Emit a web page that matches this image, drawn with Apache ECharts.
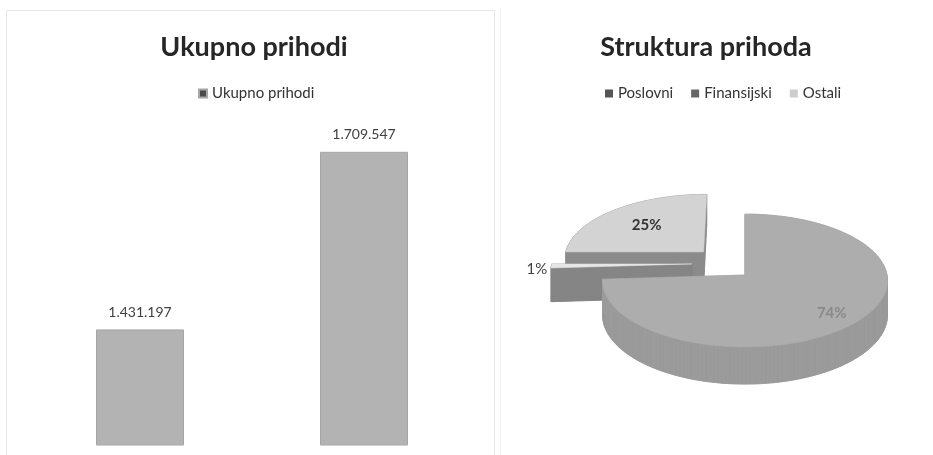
<!DOCTYPE html>
<html>
<head>
<meta charset="utf-8">
<script src="https://cdn.jsdelivr.net/npm/echarts@6/dist/echarts.min.js"></script>
<style>
html,body{margin:0;padding:0;background:#fff;}
#chart{width:933px;height:455px;}
</style>
</head>
<body>
<div id="chart"></div>
<script>
// ---- data ----
const barCategories = ['Prethodni period', 'Tekući period'];
const barValues = [1431197, 1709547];
const barSeriesName = 'Ukupno prihodi';
const barTitle = 'Ukupno prihodi';

const pieTitle = 'Struktura prihoda';
const pieNames = ['Poslovni', 'Finansijski', 'Ostali'];
const pieValues = [74, 1, 25];

// ---- styles / layout ----
const FONT = 'Lato, "Open Sans", sans-serif';
const pieTop = ['#adadad', '#e6e6e6', '#d3d3d3'];
const pieSide = ['#9b9b9b', '#858585', '#8b8b8b'];
const pieLegendIcon = ['#555555', '#666666', '#cccccc'];
const pieExplode = [[0, 0], [-0.38, 0.17], [-0.30, 0.36]];
const pieLabelCfg = [
  {r: 0.8, color: '#8a8a8a', weight: 'bold'},
  {outside: true, color: '#404040', weight: 'normal'},
  {r: 0.62, color: '#333333', weight: 'bold'}
];
const pieDrawRank = [2, 1, 0]; // higher = drawn later (front)
const PIE = {cx: 745, cy: 275, R: 142, RK: 66, D: 12, depth: 34};

function fmt(v) { return String(v).replace(/\B(?=(\d{3})+(?!\d))/g, '.'); }

function proj(u, v, z) {
  const s = PIE.D / (PIE.D + v);
  return [PIE.cx + PIE.R * u * s, PIE.cy - PIE.RK * v * s + PIE.depth * z * s];
}

function sliceRenderer(i) {
  return function (params, api) {
    const total = pieValues.reduce((a, b) => a + b, 0);
    let before = 0;
    for (let k = 0; k < i; k++) before += pieValues[k];
    const a0 = before / total * Math.PI * 2;
    const a1 = (before + pieValues[i]) / total * Math.PI * 2;
    const du = pieExplode[i][0], dv = pieExplode[i][1];
    const steps = Math.max(2, Math.ceil((a1 - a0) / (Math.PI / 120)));
    const rim = [];
    for (let k = 0; k <= steps; k++) {
      const t = a0 + (a1 - a0) * k / steps;
      rim.push([du + Math.sin(t), dv + Math.cos(t)]);
    }
    const apexT = proj(du, dv, 0), apexB = proj(du, dv, 1);
    const topPts = [apexT].concat(rim.map(p => proj(p[0], p[1], 0)));
    const botPts = [apexB].concat(rim.map(p => proj(p[0], p[1], 1)));
    const side = pieSide[i];
    const sideStyle = {fill: side, stroke: side, lineWidth: 0.6};
    const children = [];
    children.push({type: 'polygon', shape: {points: botPts}, style: sideStyle});
    for (let k = 0; k < steps; k++) {
      const p = rim[k], q = rim[k + 1];
      children.push({type: 'polygon', shape: {points: [proj(p[0], p[1], 0), proj(q[0], q[1], 0), proj(q[0], q[1], 1), proj(p[0], p[1], 1)]}, style: sideStyle});
    }
    [rim[0], rim[rim.length - 1]].forEach(p => {
      children.push({type: 'polygon', shape: {points: [apexT, proj(p[0], p[1], 0), proj(p[0], p[1], 1), apexB]}, style: sideStyle});
    });
    children.push({type: 'polygon', shape: {points: topPts}, style: {fill: pieTop[i], stroke: pieTop[i], lineWidth: 0.5}});
    // label
    const mid = (a0 + a1) / 2;
    const cfg = pieLabelCfg[i];
    const pct = Math.round(pieValues[i] / total * 100) + '%';
    let lp, align;
    if (cfg.outside) {
      lp = proj(du + Math.sin(mid) * 1.0, dv + Math.cos(mid) * 1.0, 0.1);
      lp[0] -= 4; align = 'right';
    } else {
      lp = proj(du + Math.sin(mid) * cfg.r, dv + Math.cos(mid) * cfg.r, 0);
      align = 'center';
    }
    children.push({type: 'text', style: {x: lp[0], y: lp[1], text: pct, fill: cfg.color, fontSize: 15, fontWeight: cfg.weight, fontFamily: FONT, align: align, verticalAlign: 'middle'}});
    return {type: 'group', children: children};
  };
}

const chart = echarts.init(document.getElementById('chart'), null, {renderer: 'canvas'});

const pieSeries = pieNames.map((name, i) => ({
  type: 'custom',
  name: name,
  coordinateSystem: 'none',
  silent: true,
  z: 2 + pieDrawRank[i],
  itemStyle: {color: pieTop[i]},
  data: [pieValues[i]],
  renderItem: sliceRenderer(i)
}));

chart.setOption({
  backgroundColor: '#ffffff',
  animation: false,
  title: [
    {text: barTitle, left: 249, top: 29, textAlign: 'center', textStyle: {fontFamily: FONT, fontSize: 27, fontWeight: 'bold', color: '#262626'}},
    {text: pieTitle, left: 701, top: 29, textAlign: 'center', textStyle: {fontFamily: FONT, fontSize: 27, fontWeight: 'bold', color: '#262626'}}
  ],
  legend: [
    {data: [{name: barSeriesName, itemStyle: {color: '#4a4a4a'}}], left: 193, top: 81, itemWidth: 8, itemHeight: 8, itemGap: 6, icon: 'rect',
     textStyle: {fontFamily: FONT, fontSize: 15, color: '#333'}, selectedMode: false},
    {data: pieNames.map((n, i) => ({name: n, itemStyle: {color: pieLegendIcon[i]}})), left: 600, top: 81, itemWidth: 8, itemHeight: 8, itemGap: 18, icon: 'rect',
     textStyle: {fontFamily: FONT, fontSize: 15, color: '#333'}, selectedMode: false}
  ],
  grid: {left: 28, width: 448, top: 126, bottom: 10, containLabel: false},
  xAxis: {type: 'category', data: barCategories, show: false},
  yAxis: {type: 'value', min: 1250000, max: 1750000, show: false},
  graphic: [
    {type: 'rect', shape: {x: 6.5, y: 10.5, width: 488, height: 460}, style: {fill: 'none', stroke: '#e6e6e6', lineWidth: 1}, silent: true},
    {type: 'line', shape: {x1: 500.5, y1: 8, x2: 500.5, y2: 455}, style: {stroke: '#f0f0f0', lineWidth: 1}, silent: true}
  ],
  series: [
    {
      type: 'bar',
      name: barSeriesName,
      data: barValues,
      barWidth: 88,
      silent: true,
      itemStyle: {color: '#b3b3b3', borderColor: '#a6a6a6', borderWidth: 1},
      label: {show: true, position: 'top', distance: 10, formatter: p => fmt(p.value), fontFamily: FONT, fontSize: 14, color: '#404040'}
    }
  ].concat(pieSeries)
});
</script>
</body>
</html>
